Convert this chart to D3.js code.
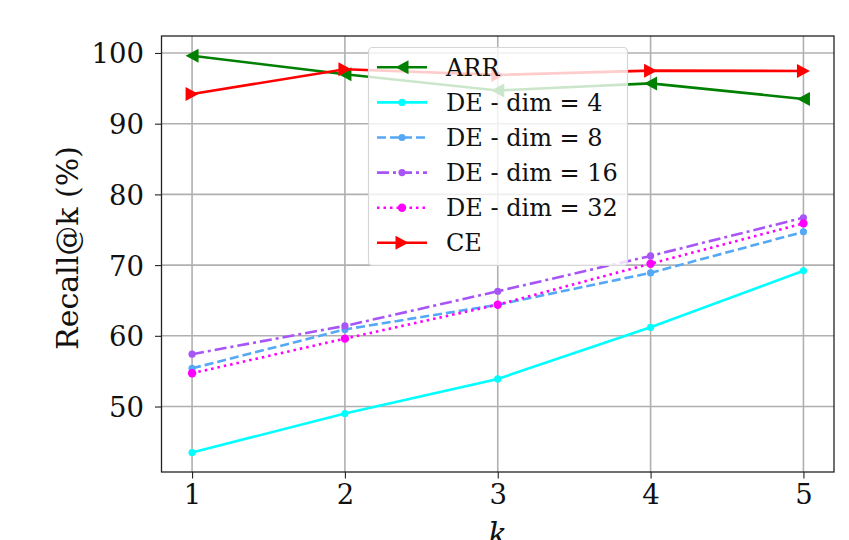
<!DOCTYPE html>
<html><head><meta charset="utf-8">
<script src="https://cdn.jsdelivr.net/npm/d3@7"></script>
<style>body{margin:0;background:#fff}svg{display:block}</style>
</head><body>
<svg id="chart" width="849" height="540"></svg>
<script>
const ks = [1, 2, 3, 4, 5];
const yTicks = [50, 60, 70, 80, 90, 100];
const seriesNames = ["ARR", "DE - dim = 4", "DE - dim = 8", "DE - dim = 16", "DE - dim = 32", "CE"];
const arr = [99.6, 97.0, 94.7, 95.7, 93.5];
const de4 = [43.5, 49.0, 53.9, 61.2, 69.2];
const de8 = [55.4, 60.9, 64.4, 68.9, 74.7];
const de16 = [57.4, 61.4, 66.3, 71.3, 76.7];
const de32 = [54.7, 59.6, 64.4, 70.2, 75.9];
const ce = [94.2, 97.7, 96.9, 97.5, 97.45];

const styles = [
  {vals: arr,  color: "#008000", dash: null,        marker: "left"},
  {vals: de4,  color: "#00ffff", dash: null,        marker: "dot"},
  {vals: de8,  color: "#55a8f5", dash: "9,4",       marker: "dot"},
  {vals: de16, color: "#a855f7", dash: "12,4,3,4",  marker: "dot"},
  {vals: de32, color: "#ff00ff", dash: "2.5,4",     marker: "dot", r: 4.2},
  {vals: ce,   color: "#ff0000", dash: null,        marker: "right"}
];

const svg = d3.select("#chart");
const L = 161.5, R = 834, T = 36, B = 472;
const x = d3.scaleLinear().domain([0.8, 5.2]).range([L, R]);
const y = d3.scaleLinear().domain([40.74, 102.4]).range([B, T]);
const serif = "'DejaVu Serif', serif";

// grid
const g = svg.append("g");
g.selectAll(".gx").data(ks).enter().append("line")
  .attr("x1", d => x(d)).attr("x2", d => x(d)).attr("y1", T).attr("y2", B)
  .attr("stroke", "#b0b0b0").attr("stroke-width", 1.6);
g.selectAll(".gy").data(yTicks).enter().append("line")
  .attr("y1", d => y(d)).attr("y2", d => y(d)).attr("x1", L).attr("x2", R)
  .attr("stroke", "#b0b0b0").attr("stroke-width", 1.6);

// axes
const xAxis = d3.axisBottom(x).tickValues(ks).tickSize(6.5).tickPadding(6).tickFormat(d3.format("d"));
const yAxis = d3.axisLeft(y).tickValues(yTicks).tickSize(6.5).tickPadding(11).tickFormat(d3.format("d"));
const ax = svg.append("g").attr("transform", `translate(0,${B})`).call(xAxis);
const ay = svg.append("g").attr("transform", `translate(${L},0)`).call(yAxis);
[ax, ay].forEach(a => {
  a.select(".domain").remove();
  a.selectAll(".tick line").attr("stroke", "#222").attr("stroke-width", 1.1);
  a.selectAll("text").attr("font-family", serif).attr("font-size", 27.5).attr("fill", "#111");
});
ay.selectAll("text").attr("dy", "0.36em");

const line = d3.line().x((d, i) => x(ks[i])).y(d => y(d));

function marker(sel, s, cx, cy) {
  if (s.marker === "dot") {
    sel.append("circle").attr("cx", cx).attr("cy", cy).attr("r", s.r || 3.6).attr("fill", s.color);
  } else {
    const w = 13, h = 7;
    const pts = s.marker === "left"
      ? [[cx - w/2, cy], [cx + w/2, cy - h], [cx + w/2, cy + h]]
      : [[cx + w/2, cy], [cx - w/2, cy - h], [cx - w/2, cy + h]];
    sel.append("path").attr("d", "M" + pts.map(p => p.join(",")).join("L") + "Z").attr("fill", s.color);
  }
}

const plot = svg.append("g");
styles.forEach(s => {
  plot.append("path").datum(s.vals).attr("d", line).attr("fill", "none")
    .attr("stroke", s.color).attr("stroke-width", 2.6)
    .attr("stroke-dasharray", s.dash);
  s.vals.forEach((v, i) => marker(plot, s, x(ks[i]), y(v)));
});

// frame
svg.append("rect").attr("x", L).attr("y", T).attr("width", R - L).attr("height", B - T)
  .attr("fill", "none").attr("stroke", "#222").attr("stroke-width", 1.3);

// legend
const lg = svg.append("g");
lg.append("rect").attr("x", 368.5).attr("y", 47.5).attr("width", 259).attr("height", 218)
  .attr("rx", 4).attr("fill", "rgba(255,255,255,0.8)").attr("stroke", "#d6d6d6").attr("stroke-width", 1.2);
styles.forEach((s, i) => {
  const cy = 67.3 + i * 35.1;
  lg.append("line").attr("x1", 377).attr("x2", 427).attr("y1", cy).attr("y2", cy)
    .attr("stroke", s.color).attr("stroke-width", 2.6).attr("stroke-dasharray", s.dash);
  marker(lg, s, 402, cy);
  lg.append("text").attr("x", 446).attr("y", cy).attr("dy", "0.35em")
    .attr("font-family", serif).attr("font-size", 24).attr("fill", "#111").text(seriesNames[i]);
});

// axis labels
svg.append("text").attr("x", x(3)).attr("y", 545).attr("text-anchor", "middle")
  .attr("font-family", serif).attr("font-style", "italic").attr("font-size", 31).attr("fill", "#111").text("k");
svg.append("text").attr("transform", `translate(78,248) rotate(-90)`).attr("text-anchor", "middle")
  .attr("font-family", serif).attr("font-size", 30).attr("fill", "#111").text("Recall@k (%)");
</script>
</body></html>
